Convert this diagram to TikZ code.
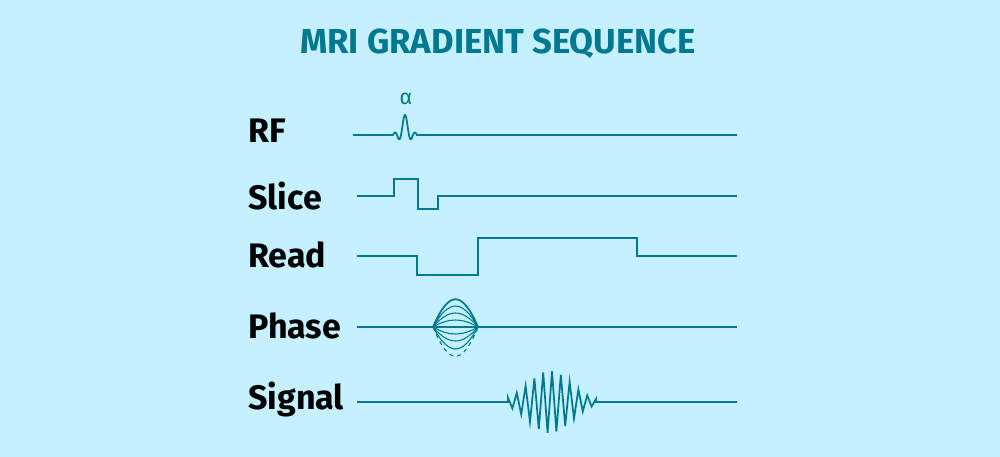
\documentclass[tikz,border=0pt]{standalone}
\usepackage{fontspec}
\setmainfont{Fira Sans}
\definecolor{bg}{HTML}{C4F0FF}
\definecolor{teal}{HTML}{00788F}
\begin{document}
\begin{tikzpicture}[x=0.75pt,y=-0.75pt,
  wave/.style={draw=teal,line width=1.3pt,line join=miter},
  thin/.style={draw=teal,line width=0.8pt},
  lab/.style={anchor=west,font=\fontsize{25.5}{28}\selectfont\bfseries,text=black,inner sep=0pt}]
\fill[bg] (0,0) rectangle (1000,457);
\useasboundingbox (0,0) rectangle (1000,457);
\node[font=\fontsize{26}{28}\selectfont\bfseries,text=teal] (title) at (498,44) {MRI GRADIENT SEQUENCE};
\node[lab] (rf) at (248,131) {RF};
\node[lab] (slice) at (248,196) {Slice};
\node[lab] (read) at (248,255) {Read};
\node[lab] (phase) at (248,326) {Phase};
\node[lab] (signal) at (248,399) {Signal};
\node[text=teal,font=\fontsize{16}{18}\selectfont] (alpha) at (406,99) {α};
% RF
\draw[wave] (353,135) -- (393,135) -- plot[domain=-3:3,samples=80,smooth] ({405+4*\x},{135-20*sin(180*\x)/(pi*\x)}) -- (737,135);
% Slice
\draw[wave] (357,196) -- (394,196) -- (394,179) -- (418,179) -- (418,209) -- (438,209) -- (438,196) -- (737,196);
% Read
\draw[wave] (357,256) -- (417,256) -- (417,275) -- (478,275) -- (478,238) -- (637,238) -- (637,256) -- (737,256);
% Phase
\draw[wave] (357,327) -- (737,327);
\foreach \p in {306,313,320,334,341,349}
  \draw[thin] (433,327) .. controls (449,{327+(\p-327)*4/3}) and (462,{327+(\p-327)*4/3}) .. (478,327);
\draw[wave] (433,327) .. controls (449,290) and (462,290) .. (478,327);
\draw[thin,dashed] (433,327) .. controls (449,366) and (462,366) .. (478,327);
% Signal
\draw[wave] (357,402) -- (508,402) -- plot[domain=0:88,samples=21] ({508+\x},{402-31*exp(-((\x-42)/30)^2)*cos(\x/4.4*180)}) -- (596,402) -- (737,402);
\end{tikzpicture}
\end{document}
